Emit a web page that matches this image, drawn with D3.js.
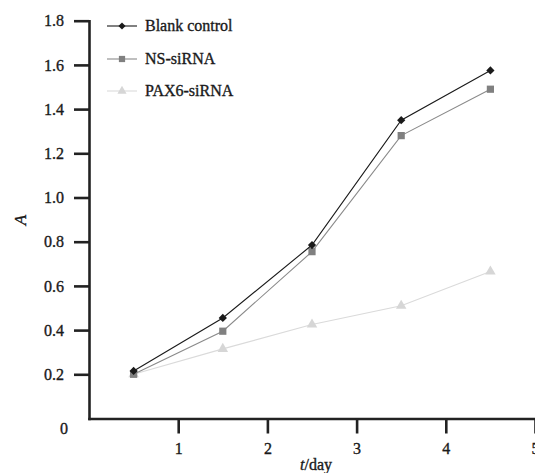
<!DOCTYPE html>
<html>
<head>
<meta charset="utf-8">
<script src="https://cdn.jsdelivr.net/npm/d3@7"></script>
<style>
  body { margin: 0; background: #fff; }
  svg text { font-family: "Liberation Serif", "Times New Roman", serif; fill: #1a1a1a; stroke: #1a1a1a; stroke-width: 0.35px; }
  .axis path, .axis line { stroke: #222; stroke-width: 2.6px; }
  .axis text { font-size: 16px; }
</style>
</head>
<body>
<div id="chart"></div>
<script>
// data
var days = [0.5, 1.5, 2.5, 3.5, 4.5];
var blankControl = [0.215, 0.455, 0.785, 1.35, 1.575];
var nsSiRNA = [0.2, 0.395, 0.755, 1.28, 1.49];
var pax6SiRNA = [0.2, 0.315, 0.425, 0.51, 0.665];
var seriesNames = ['Blank control', 'NS-siRNA', 'PAX6-siRNA'];
var xTicks = [1, 2, 3, 4, 5];
var yTicks = [0.2, 0.4, 0.6, 0.8, 1.0, 1.2, 1.4, 1.6, 1.8];

// diamond drawn as a square turned by 45 degrees
var styles = [
  {line: '#1a1a1a', fill: '#1a1a1a', symbol: d3.symbolSquare, size: 34, rot: 45},
  {line: '#8a8a8a', fill: '#808080', symbol: d3.symbolSquare, size: 52, rot: 0},
  {line: '#dadada', fill: '#d6d6d6', symbol: d3.symbolTriangle, size: 48, rot: 0}
];

var series = [blankControl, nsSiRNA, pax6SiRNA].map(function (vals, i) {
  return {
    name: seriesNames[i],
    style: styles[i],
    values: vals.map(function (v, j) { return {x: days[j], y: v}; })
  };
});

var width = 535, height = 473;

var svg = d3.select('#chart').append('svg')
  .attr('width', width)
  .attr('height', height);

var x = d3.scaleLinear().domain([0, 5]).range([89, 535]);
var y = d3.scaleLinear().domain([0, 1.8]).range([418.5, 20.7]);

// X axis
svg.append('g')
  .attr('class', 'axis')
  .attr('transform', 'translate(0,' + y(0) + ')')
  .call(d3.axisBottom(x).tickValues(xTicks).tickFormat(d3.format('d'))
    .tickSize(15).tickSizeOuter(0).tickPadding(9));

// Y axis
svg.append('g')
  .attr('class', 'axis')
  .attr('transform', 'translate(' + x(0) + ',0)')
  .call(d3.axisLeft(y).tickValues(yTicks).tickFormat(d3.format('.1f'))
    .tickSize(15).tickSizeOuter(0).tickPadding(10));

svg.selectAll('.axis path').attr('stroke-linecap', 'square');

// origin label
svg.append('text')
  .attr('x', 68)
  .attr('y', 434)
  .attr('text-anchor', 'end')
  .style('font-size', '16px')
  .text('0');

// axis titles
var xt = svg.append('text')
  .attr('x', 316)
  .attr('y', 470)
  .attr('text-anchor', 'middle')
  .style('font-size', '16px');
xt.append('tspan').style('font-style', 'italic').text('t');
xt.append('tspan').text('/day');

svg.append('text')
  .attr('transform', 'translate(26,220) rotate(-90)')
  .attr('text-anchor', 'middle')
  .style('font-size', '17px')
  .style('font-style', 'italic')
  .text('A');

// lines
var line = d3.line()
  .x(function (d) { return x(d.x); })
  .y(function (d) { return y(d.y); });

var g = svg.selectAll('.series')
  .data(series.slice().reverse())
  .enter().append('g')
  .attr('class', 'series');

g.append('path')
  .attr('d', function (d) { return line(d.values); })
  .attr('fill', 'none')
  .attr('stroke', function (d) { return d.style.line; })
  .attr('stroke-width', 1.1);

g.each(function (s) {
  d3.select(this).selectAll('path.pt')
    .data(s.values)
    .enter().append('path')
    .attr('class', 'pt')
    .attr('transform', function (d) {
      return 'translate(' + x(d.x) + ',' + y(d.y) + ') rotate(' + s.style.rot + ')';
    })
    .attr('d', d3.symbol().type(s.style.symbol).size(s.style.size))
    .attr('fill', s.style.fill);
});

// legend
var legend = svg.append('g').attr('class', 'legend');
var rowY = [26, 59, 91];
series.forEach(function (s, i) {
  var row = legend.append('g').attr('transform', 'translate(0,' + rowY[i] + ')');
  row.append('line')
    .attr('x1', 107).attr('x2', 137)
    .attr('stroke', s.style.line)
    .attr('stroke-width', 1.1);
  row.append('path')
    .attr('transform', 'translate(122,0) rotate(' + s.style.rot + ')')
    .attr('d', d3.symbol().type(s.style.symbol).size(s.style.size * 0.75))
    .attr('fill', s.style.fill);
  row.append('text')
    .attr('x', 145)
    .attr('y', 5)
    .style('font-size', '16px')
    .text(s.name);
});
</script>
</body>
</html>
